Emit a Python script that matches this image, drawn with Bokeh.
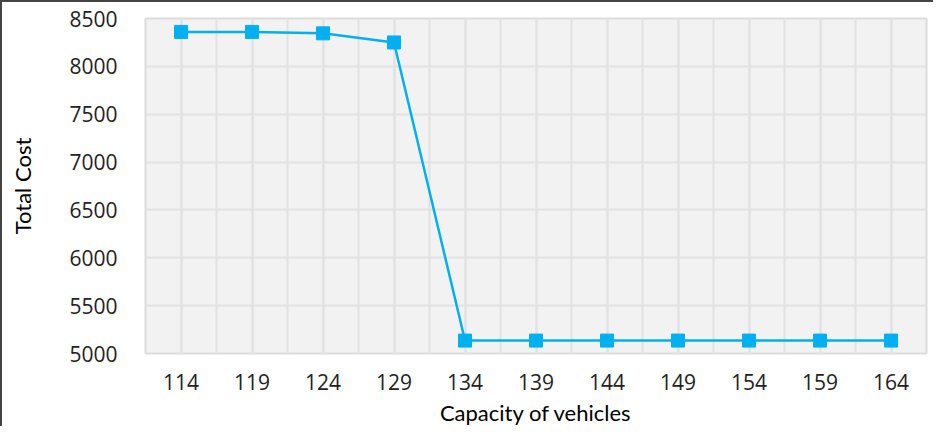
from bokeh.plotting import figure
from bokeh.models import FixedTicker, Range1d
from bokeh.embed import file_html
from bokeh.resources import INLINE

capacity = [114, 119, 124, 129, 134, 139, 144, 149, 154, 159, 164]
total_cost = [8360, 8360, 8345, 8250, 5135, 5135, 5135, 5135, 5135, 5135, 5135]
y_ticks = [5000, 5500, 6000, 6500, 7000, 7500, 8000, 8500]

p = figure(width=933, height=426, output_backend="svg", toolbar_location=None,
           x_range=Range1d(111.5, 166.5), y_range=Range1d(5000, 8500),
           min_border_left=143, min_border_right=9, min_border_top=16, min_border_bottom=74)
p.styles = {"border-top": "2px solid #444444", "border-left": "2px solid #444444"}
p.background_fill_color = "#f2f2f2"
p.border_fill_color = "white"
p.outline_line_color = "#dcdcdc"
p.outline_line_width = 2

p.line(capacity, total_cost, line_color="#00b0f0", line_width=2.5)
p.scatter(capacity, total_cost, marker="square", size=13, fill_color="#00b0f0", line_color="#00b0f0")

minor = [111.5 + 2.5 * k for k in range(23)]
p.xaxis.ticker = FixedTicker(ticks=capacity, minor_ticks=minor)
p.yaxis.ticker = FixedTicker(ticks=y_ticks)

for ax in (p.xaxis[0], p.yaxis[0]):
    ax.axis_line_color = None
    ax.major_tick_line_color = None
    ax.minor_tick_line_color = None
    ax.major_label_text_font = "Open Sans"
    ax.major_label_text_font_size = "21px"
    ax.major_label_text_color = "#222222"
    ax.axis_label_text_font = "Lato"
    ax.axis_label_text_font_size = "22px"
    ax.axis_label_text_font_style = "normal"
    ax.axis_label_text_color = "#000000"

p.xaxis.axis_label = "Capacity of vehicles"
p.yaxis.axis_label = "Total Cost"
p.xaxis.major_label_standoff = 14
p.yaxis.major_label_standoff = 22
p.xaxis.axis_label_standoff = 6
p.yaxis.axis_label_standoff = 30

p.xgrid.grid_line_color = "#e2e2e2"
p.xgrid.grid_line_width = 2
p.xgrid.minor_grid_line_color = "#e2e2e2"
p.xgrid.minor_grid_line_width = 2
p.ygrid.grid_line_color = "#e2e2e2"
p.ygrid.grid_line_width = 2

open("out.html", "w").write(file_html(p, INLINE))
